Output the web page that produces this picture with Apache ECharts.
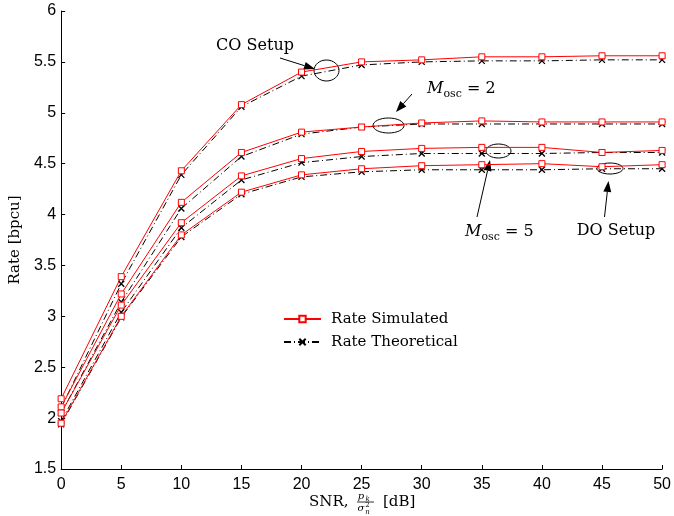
<!DOCTYPE html>
<html>
<head>
<meta charset="utf-8">
<script src="https://cdn.jsdelivr.net/npm/echarts@6/dist/echarts.min.js"></script>
<style>
html,body{margin:0;padding:0;background:#fff;}
#chart{width:674px;height:516px;}
</style>
</head>
<body>
<div id="chart"></div>
<script>
// ---- data ----
const snrValues = [0, 5, 10, 15, 20, 25, 30, 35, 40, 45, 50];
const xTicks = [0, 5, 10, 15, 20, 25, 30, 35, 40, 45, 50];
const yTicks = [1.5, 2, 2.5, 3, 3.5, 4, 4.5, 5, 5.5, 6];

const coSimulated    = [2.19, 3.39, 4.43, 5.08, 5.40, 5.50, 5.52, 5.55, 5.55, 5.56, 5.56];
const coTheoretical  = [2.10, 3.32, 4.39, 5.06, 5.36, 5.47, 5.50, 5.51, 5.51, 5.52, 5.52];
const m2Simulated    = [2.11, 3.22, 4.12, 4.61, 4.81, 4.86, 4.90, 4.92, 4.91, 4.91, 4.91];
const m2Theoretical  = [2.05, 3.14, 4.06, 4.57, 4.79, 4.86, 4.89, 4.89, 4.89, 4.89, 4.89];
const m5Simulated    = [2.05, 3.11, 3.92, 4.38, 4.55, 4.62, 4.65, 4.66, 4.66, 4.61, 4.63];
const m5Theoretical  = [1.97, 3.04, 3.87, 4.34, 4.51, 4.57, 4.60, 4.60, 4.60, 4.61, 4.61];
const doSimulated    = [1.95, 3.00, 3.80, 4.22, 4.39, 4.45, 4.48, 4.49, 4.50, 4.47, 4.49];
const doTheoretical  = [1.94, 2.99, 3.78, 4.20, 4.37, 4.42, 4.44, 4.44, 4.44, 4.45, 4.45];

const simulatedSets   = [coSimulated, m2Simulated, m5Simulated, doSimulated];
const theoreticalSets = [coTheoretical, m2Theoretical, m5Theoretical, doTheoretical];
const legendNames = ['Rate Simulated', 'Rate Theoretical'];

// ---- chart ----
const chart = echarts.init(document.getElementById('chart'), null, {renderer: 'canvas'});
const serif = 'DejaVu Serif';
const sans = 'Liberation Sans';

function pairs(vals) { return vals.map((v, i) => [snrValues[i], v]); }

const series = [];
theoreticalSets.forEach(vals => series.push({
  type: 'line', name: legendNames[1], data: pairs(vals),
  symbol: 'path://M0,0L10,10M0,10L10,0', symbolSize: 6,
  itemStyle: {color: '#000', borderColor: '#000', borderWidth: 1.3},
  lineStyle: {color: '#000', width: 1, type: [7, 3, 1, 3]},
  z: 2, silent: true, animation: false
}));
simulatedSets.forEach(vals => series.push({
  type: 'line', name: legendNames[0], data: pairs(vals),
  symbol: 'rect', symbolSize: 6,
  itemStyle: {color: '#ffffff', borderColor: '#ff0000', borderWidth: 1},
  lineStyle: {color: '#ff0000', width: 1},
  z: 3, silent: true, animation: false
}));

function arrow(x1, y1, x2, y2) {
  const dx = x2 - x1, dy = y2 - y1, L = Math.hypot(dx, dy);
  const ux = dx / L, uy = dy / L, hl = 11, hw = 4;
  const bx = x2 - ux * hl, by = y2 - uy * hl;
  return [
    {type: 'line', shape: {x1: x1, y1: y1, x2: bx, y2: by}, style: {stroke: '#000', lineWidth: 1}, silent: true},
    {type: 'polygon', shape: {points: [[x2, y2], [bx - uy * hw, by + ux * hw], [bx + uy * hw, by - ux * hw]]},
     style: {fill: '#000'}, silent: true}
  ];
}
function ell(cx, cy, rx, ry) {
  return {type: 'ellipse', shape: {cx: cx, cy: cy, rx: rx, ry: ry}, style: {fill: 'none', stroke: '#000', lineWidth: 1}, silent: true};
}
function txt(x, y, text, opts) {
  return Object.assign({type: 'text', x: x, y: y, silent: true,
    style: Object.assign({text: text, fill: '#000', font: '16px "DejaVu Serif"', textAlign: 'center', textVerticalAlign: 'middle'}, opts || {})});
}
function moscLabel(x, y, val) {
  return {type: 'text', x: x, y: y, silent: true, style: {
    text: '{m|M}{s|osc}{n| = ' + val + '}', fill: '#000', textAlign: 'left', textVerticalAlign: 'middle',
    rich: {
      m: {fontFamily: serif, fontStyle: 'italic', fontSize: 16, lineHeight: 22, fill: '#000'},
      s: {fontFamily: serif, fontSize: 11, lineHeight: 12, verticalAlign: 'bottom', fill: '#000'},
      n: {fontFamily: serif, fontSize: 16, lineHeight: 22, fill: '#000'}
    }
  }};
}

const graphics = [].concat(
  [txt(255, 46, 'CO Setup')], arrow(280, 58, 315, 69), [ell(326.5, 70.5, 12.5, 10.5)],
  [moscLabel(427, 89, '2')], arrow(412, 94, 396, 112), [ell(388.5, 125.5, 15.5, 7.5)],
  [moscLabel(465, 232, '5')], arrow(477, 217, 490, 160), [ell(498.5, 151, 12.5, 7)],
  [txt(616, 231, 'DO Setup')], arrow(604.5, 217, 608.5, 181), [ell(610, 168.5, 13, 5.5)],
  // x-axis name: SNR, p_k / sigma_n^2 [dB]
  [txt(309, 502, 'SNR,', {font: '15px "DejaVu Serif"', textAlign: 'left'}),
   txt(361, 496.5, 'p', {font: 'italic 10px "DejaVu Serif"'}),
   txt(367.5, 499, 'k', {font: 'italic 7px "DejaVu Serif"'}),
   {type: 'line', shape: {x1: 357, y1: 502, x2: 374, y2: 502}, style: {stroke: '#000', lineWidth: 0.8}, silent: true},
   txt(361, 508.5, 'σ', {font: 'italic 10px "DejaVu Serif"'}),
   txt(367.5, 505.5, '2', {font: '7px "DejaVu Serif"'}),
   txt(367.5, 512, 'n', {font: 'italic 7px "DejaVu Serif"'}),
   txt(383, 502, '[dB]', {font: '15px "DejaVu Serif"', textAlign: 'left'})]
);

chart.setOption({
  backgroundColor: '#fff',
  animation: false,
  grid: {left: 59, right: 8, top: 11, bottom: 47, containLabel: false},
  legend: {
    data: legendNames, orient: 'vertical', left: 278, top: 306,
    itemWidth: 37, itemHeight: 8, itemGap: 7, selectedMode: false,
    textStyle: {fontFamily: serif, fontSize: 15, color: '#000', lineHeight: 16, padding: [0, 0, 0, 5]}
  },
  xAxis: {
    type: 'value', min: xTicks[0], max: xTicks[xTicks.length - 1], interval: xTicks[1] - xTicks[0],
    axisLine: {show: true, onZero: false, lineStyle: {color: '#000', width: 1}},
    axisTick: {show: true, inside: true, length: 4, lineStyle: {color: '#000'}},
    axisLabel: {color: '#000', fontFamily: sans, fontSize: 16, margin: 8},
    splitLine: {show: false}
  },
  yAxis: {
    type: 'value', min: yTicks[0], max: yTicks[yTicks.length - 1], interval: yTicks[1] - yTicks[0],
    name: 'Rate [bpcu]', nameLocation: 'middle', nameGap: 37,
    nameTextStyle: {fontFamily: serif, fontSize: 15, color: '#000'},
    axisLine: {show: true, onZero: false, lineStyle: {color: '#000', width: 1}},
    axisTick: {show: true, inside: true, length: 4, lineStyle: {color: '#000'}},
    axisLabel: {color: '#000', fontFamily: sans, fontSize: 16, margin: 5},
    splitLine: {show: false}
  },
  series: series,
  graphic: graphics
});
</script>
</body>
</html>
